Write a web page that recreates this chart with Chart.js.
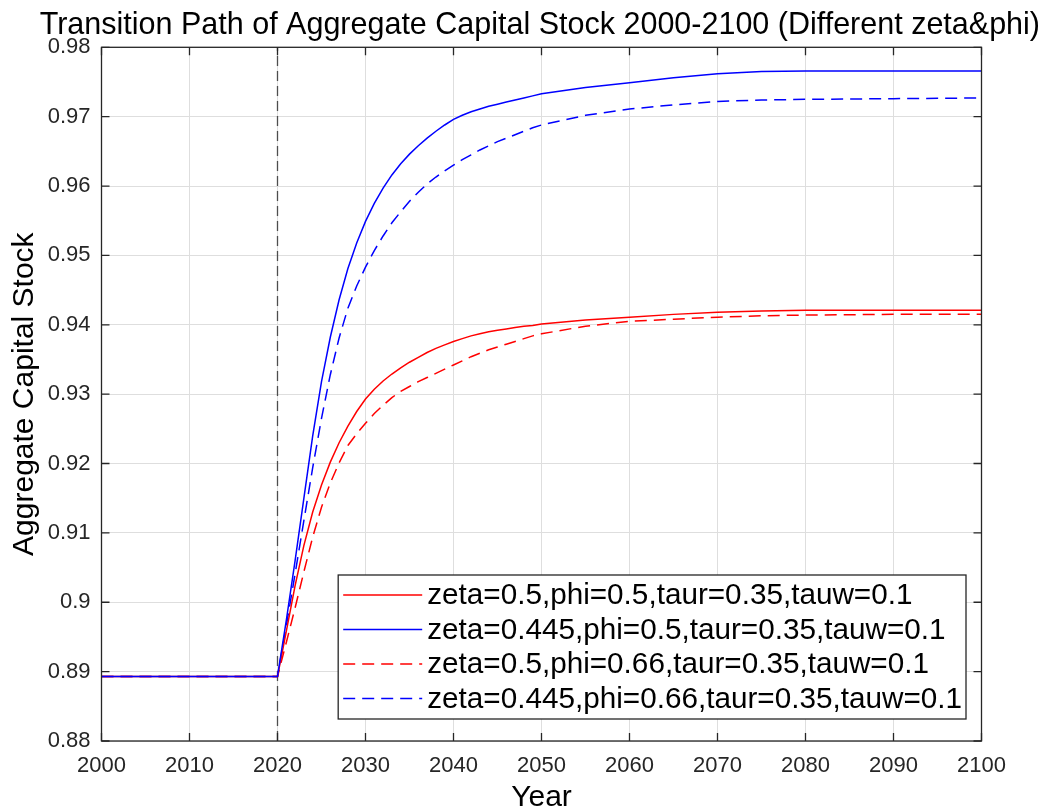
<!DOCTYPE html>
<html>
<head>
<meta charset="utf-8">
<script src="https://cdn.jsdelivr.net/npm/chart.js@4.4.1/dist/chart.umd.min.js"></script>
<style>
  body { margin: 0; background: #fff; }
  canvas { display: block; }
</style>
</head>
<body>
<canvas id="capital" width="1051" height="809"></canvas>
<script>
// years on the x axis (yearly through the transition, every 5 years later)
const years = [2000, 2010, 2020,
  2021, 2022, 2023, 2024, 2025, 2026, 2027, 2028, 2029, 2030,
  2031, 2032, 2033, 2034, 2035, 2036, 2037, 2038, 2039, 2040,
  2041, 2042, 2043, 2044, 2045, 2046, 2047, 2048, 2049, 2050,
  2055, 2060, 2065, 2070, 2075, 2080, 2090, 2100];

// zeta=0.5, phi=0.5
const redSolid = [0.8893, 0.8893, 0.8893,
  0.8958, 0.9024, 0.9082, 0.9130, 0.9169, 0.9202, 0.9230, 0.9254, 0.9275, 0.9293,
  0.9307, 0.9319, 0.9329, 0.9338, 0.9346, 0.9353, 0.9360, 0.9366, 0.9371, 0.9376,
  0.9380, 0.9384, 0.9387, 0.9390, 0.9392, 0.9394, 0.9396, 0.9398, 0.9399, 0.9401,
  0.9407, 0.9411, 0.9415, 0.9418, 0.9420, 0.9421, 0.9421, 0.9421];

// zeta=0.445, phi=0.5
const blueSolid = [0.8893, 0.8893, 0.8893,
  0.8974, 0.9060, 0.9150, 0.9240, 0.9318, 0.9382, 0.9436, 0.9481, 0.9518, 0.9549,
  0.9575, 0.9597, 0.9616, 0.9632, 0.9646, 0.9658, 0.9669, 0.9679, 0.9688, 0.9696,
  0.9702, 0.9707, 0.9711, 0.9715, 0.9718, 0.9721, 0.9724, 0.9727, 0.9730, 0.9733,
  0.9742, 0.9749, 0.9756, 0.9762, 0.9765, 0.9766, 0.9766, 0.9766];

// zeta=0.5, phi=0.66
const redDashed = [0.8893, 0.8893, 0.8893,
  0.8942, 0.8992, 0.9044, 0.9094, 0.9137, 0.9172, 0.9201, 0.9226, 0.9243, 0.9258,
  0.9272, 0.9284, 0.9295, 0.9304, 0.9311, 0.9318, 0.9324, 0.9330, 0.9336, 0.9342,
  0.9348, 0.9354, 0.9359, 0.9364, 0.9368, 0.9372, 0.9376, 0.9380, 0.9384, 0.9387,
  0.9398, 0.9405, 0.9408, 0.9411, 0.9413, 0.9414, 0.9415, 0.9415];

// zeta=0.445, phi=0.66
const blueDashed = [0.8893, 0.8893, 0.8893,
  0.8966, 0.9041, 0.9118, 0.9194, 0.9265, 0.9328, 0.9381, 0.9424, 0.9456, 0.9483,
  0.9507, 0.9528, 0.9547, 0.9563, 0.9578, 0.9591, 0.9603, 0.9613, 0.9622, 0.9630,
  0.9638, 0.9645, 0.9652, 0.9658, 0.9664, 0.9669, 0.9674, 0.9679, 0.9684, 0.9688,
  0.9702, 0.9711, 0.9717, 0.9722, 0.9724, 0.9725, 0.9726, 0.9727];

const seriesLabels = [
  "zeta=0.5,phi=0.5,taur=0.35,tauw=0.1",
  "zeta=0.445,phi=0.5,taur=0.35,tauw=0.1",
  "zeta=0.5,phi=0.66,taur=0.35,tauw=0.1",
  "zeta=0.445,phi=0.66,taur=0.35,tauw=0.1",
];

const shockYear = 2020;
const xTickValues = [2000, 2010, 2020, 2030, 2040, 2050, 2060, 2070, 2080, 2090, 2100];
const yTickValues = [0.88, 0.89, 0.90, 0.91, 0.92, 0.93, 0.94, 0.95, 0.96, 0.97, 0.98];
const yTickLabels = ["0.88", "0.89", "0.9", "0.91", "0.92", "0.93", "0.94", "0.95", "0.96", "0.97", "0.98"];

const FONT = '"Liberation Sans", Arial, sans-serif';
const AXIS_COLOR = "#262626";

function toPoints(values) {
  return years.map((yr, i) => ({ x: yr, y: values[i] }));
}

function line(label, values, color, dashed, order) {
  return {
    label: label,
    data: toPoints(values),
    borderColor: color,
    borderWidth: 1.5,
    borderDash: dashed ? [12, 7] : [],
    pointRadius: 0,
    tension: 0,
    fill: false,
    order: order,
  };
}

// legend box drawn inside the axes, like matlab's "southeast" legend
const boxLegend = {
  id: "boxLegend",
  afterDraw(chart) {
    const ctx = chart.ctx;
    const area = chart.chartArea;
    const items = chart.data.datasets.filter(d => d.label);
    ctx.save();
    ctx.font = "29.7px " + FONT;
    const textW = Math.max(...items.map(d => ctx.measureText(d.label).width));
    const rowH = 34.5, sample = 79;
    const w = 5 + sample + 5 + textW + 4;
    const h = 20 + (items.length - 1) * rowH + 20.5;
    const x0 = area.right - 15.5 - w;
    const y0 = area.bottom - 22 - h;
    ctx.fillStyle = "#fff";
    ctx.fillRect(x0, y0, w, h);
    ctx.strokeStyle = AXIS_COLOR;
    ctx.lineWidth = 1.3;
    ctx.strokeRect(x0, y0, w, h);
    items.forEach((d, i) => {
      const y = y0 + 20 + i * rowH;
      ctx.beginPath();
      ctx.setLineDash(d.borderDash || []);
      ctx.strokeStyle = d.borderColor;
      ctx.lineWidth = d.borderWidth;
      ctx.moveTo(x0 + 5, y);
      ctx.lineTo(x0 + 5 + sample, y);
      ctx.stroke();
      ctx.setLineDash([]);
      ctx.fillStyle = "#000";
      ctx.textBaseline = "middle";
      ctx.textAlign = "left";
      ctx.fillText(d.label, x0 + 5 + sample + 5, y + 1);
    });
    ctx.restore();
  }
};

// axes box with inward ticks on all four sides
const matlabBox = {
  id: "matlabBox",
  afterDatasetsDraw(chart) {
    const ctx = chart.ctx;
    const a = chart.chartArea;
    const sx = chart.scales.x, sy = chart.scales.y;
    const tl = 8;
    ctx.save();
    ctx.strokeStyle = AXIS_COLOR;
    ctx.lineWidth = 1.3;
    ctx.strokeRect(a.left, a.top, a.right - a.left, a.bottom - a.top);
    ctx.beginPath();
    sx.ticks.forEach(t => {
      const px = sx.getPixelForValue(t.value);
      ctx.moveTo(px, a.bottom); ctx.lineTo(px, a.bottom - tl);
      ctx.moveTo(px, a.top); ctx.lineTo(px, a.top + tl);
    });
    sy.ticks.forEach(t => {
      const py = sy.getPixelForValue(t.value);
      ctx.moveTo(a.left, py); ctx.lineTo(a.left + tl, py);
      ctx.moveTo(a.right, py); ctx.lineTo(a.right - tl, py);
    });
    ctx.stroke();
    ctx.restore();
  }
};

const capital = document.getElementById("capital").getContext("2d");
const myCapital = new Chart(capital, {
  type: "line",
  data: {
    datasets: [
      line(seriesLabels[0], redSolid, "rgb(255, 0, 0)", false, 1),
      line(seriesLabels[1], blueSolid, "rgb(0, 0, 255)", false, 0),
      line(seriesLabels[2], redDashed, "rgb(255, 0, 0)", true, 2),
      line(seriesLabels[3], blueDashed, "rgb(0, 0, 255)", true, 3),
      {
        label: "",
        data: [{ x: shockYear, y: yTickValues[0] }, { x: shockYear, y: yTickValues[yTickValues.length - 1] }],
        borderColor: "#4d4d4d",
        borderWidth: 1.3,
        borderDash: [10, 5],
        pointRadius: 0,
        order: 4,
      },
    ],
  },
  plugins: [matlabBox, boxLegend],
  options: {
    responsive: false,
    animation: false,
    devicePixelRatio: 1,
    layout: {
      autoPadding: false,
      padding: { left: 0, right: 11, top: 0, bottom: 0 },
    },
    plugins: {
      legend: { display: false },
      tooltip: { enabled: false },
      title: {
        display: true,
        align: "end",
        text: "Transition Path of Aggregate Capital Stock 2000-2100 (Different zeta&phi)",
        color: "#000",
        font: { family: FONT, size: 30.5, weight: "normal" },
        padding: { top: 7, bottom: 3.7 },
      },
    },
    scales: {
      x: {
        type: "linear",
        min: 2000,
        max: 2100,
        afterBuildTicks: s => { s.ticks = xTickValues.map(v => ({ value: v })); },
        afterFit: s => { s.height = 68; },
        ticks: {
          callback: (v, i) => String(xTickValues[i]),
          color: AXIS_COLOR,
          font: { family: FONT, size: 22 },
          padding: 12,
          maxRotation: 0,
        },
        grid: { color: "#dedede", drawTicks: false },
        border: { display: false },
        title: {
          display: true,
          text: "Year",
          color: "#000",
          font: { family: FONT, size: 30, lineHeight: 1 },
          padding: { top: 0, bottom: -4 },
        },
      },
      y: {
        type: "linear",
        min: 0.88,
        max: 0.98,
        afterBuildTicks: s => { s.ticks = yTickValues.map(v => ({ value: v })); },
        afterFit: s => { s.width = 101.5; },
        ticks: {
          callback: (v, i) => yTickLabels[i],
          color: AXIS_COLOR,
          font: { family: FONT, size: 22 },
          padding: 11,
        },
        grid: { color: "#dedede", drawTicks: false },
        border: { display: false },
        title: {
          display: true,
          text: "Aggregate Capital Stock",
          color: "#000",
          font: { family: FONT, size: 30 },
          padding: { top: 7, bottom: 0 },
        },
      },
      // empty spacer keeping the right margin of the axes box
      yRight: {
        type: "linear",
        position: "right",
        afterFit: s => { s.width = 58.5; },
        ticks: { display: false },
        grid: { display: false },
        border: { display: false },
      },
    },
  },
});
</script>
</body>
</html>
